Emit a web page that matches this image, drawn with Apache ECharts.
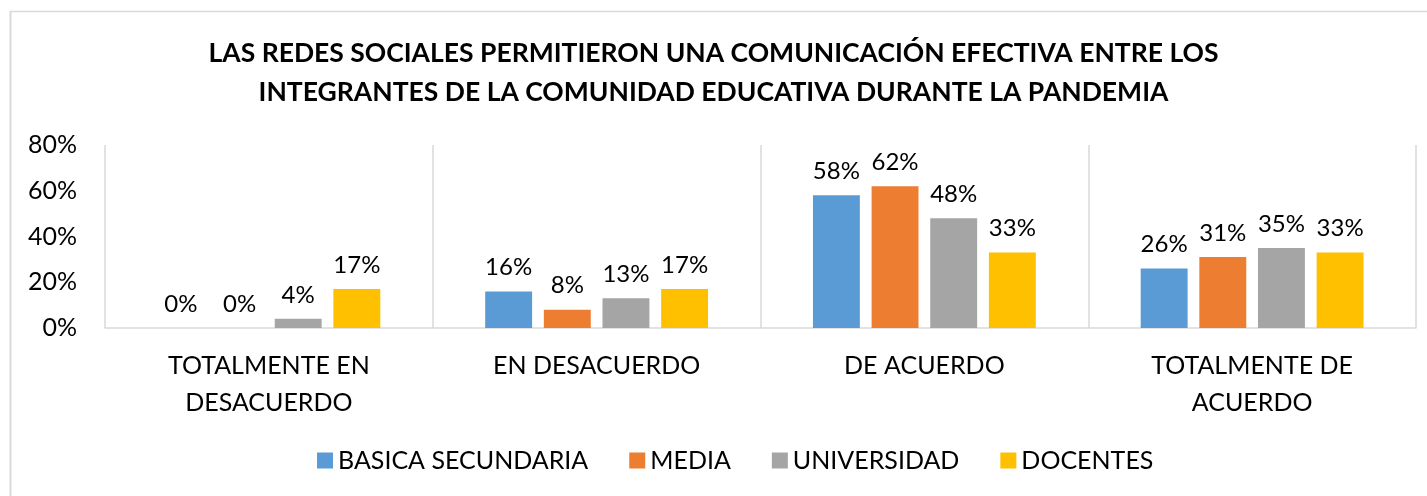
<!DOCTYPE html>
<html>
<head>
<meta charset="utf-8">
<script src="https://cdn.jsdelivr.net/npm/echarts@6/dist/echarts.min.js"></script>
<style>
  html, body { margin: 0; padding: 0; background: #fff; }
  #main { width: 1427px; height: 496px; }
</style>
</head>
<body>
<div id="main"></div>
<script>
// datos
var categorias = ['TOTALMENTE EN\nDESACUERDO', 'EN DESACUERDO', 'DE ACUERDO', 'TOTALMENTE DE\nACUERDO'];
var basica = [0, 0.16, 0.58, 0.26];
var media = [0, 0.08, 0.62, 0.31];
var universidad = [0.04, 0.13, 0.48, 0.35];
var docentes = [0.17, 0.17, 0.33, 0.33];
var nombres = ['BASICA SECUNDARIA', 'MEDIA', 'UNIVERSIDAD', 'DOCENTES'];
var colores = ['#5b9bd5', '#ed7d31', '#a5a5a5', '#ffc000'];

var fuente = 'Lato';

function pct(v) {
  return Math.round(v * 100) + '%';
}

function serie(nombre, datos, color) {
  return {
    name: nombre,
    type: 'bar',
    data: datos,
    barGap: '25%',
    barCategoryGap: '32%',
    itemStyle: { color: color },
    label: {
      show: true,
      position: 'top',
      distance: 12,
      color: '#000',
      fontFamily: fuente,
      fontSize: 24,
      formatter: function (p) { return pct(p.value); }
    }
  };
}

var chart = echarts.init(document.getElementById('main'));
chart.setOption({
  backgroundColor: '#fff',
  animation: false,
  title: {
    text: 'LAS REDES SOCIALES PERMITIERON UNA COMUNICACIÓN EFECTIVA ENTRE LOS\nINTEGRANTES DE LA COMUNIDAD EDUCATIVA DURANTE LA PANDEMIA',
    left: 'center',
    top: 29,
    textStyle: {
      fontFamily: fuente,
      fontWeight: 'bold',
      fontSize: 26.5,
      lineHeight: 39,
      color: '#000'
    }
  },
  legend: {
    data: nombres,
    bottom: 18,
    left: 312,
    itemWidth: 16,
    itemHeight: 16,
    itemGap: 41,
    icon: 'rect',
    textStyle: { fontFamily: fuente, fontSize: 25, color: '#000' }
  },
  grid: {
    left: 105,
    right: 11,
    top: 145,
    bottom: 168
  },
  xAxis: {
    type: 'category',
    data: categorias,
    axisLine: { lineStyle: { color: '#d9d9d9', width: 1.5 } },
    axisTick: { show: false },
    splitLine: { show: true, lineStyle: { color: '#d9d9d9', width: 1.5 } },
    axisLabel: {
      fontFamily: fuente,
      fontSize: 25,
      color: '#000',
      lineHeight: 37,
      margin: 19
    }
  },
  yAxis: {
    type: 'value',
    min: 0,
    max: 0.8,
    interval: 0.2,
    axisLine: { show: false },
    axisTick: { show: false },
    splitLine: { show: false },
    axisLabel: {
      fontFamily: fuente,
      fontSize: 25,
      color: '#000',
      margin: 28,
      formatter: function (v) { return pct(v); }
    }
  },
  graphic: [
    { type: 'line', shape: { x1: 10.5, y1: 11, x2: 10.5, y2: 496 }, style: { stroke: '#d9d9d9', lineWidth: 2 } },
    { type: 'line', shape: { x1: 10, y1: 11.5, x2: 1427, y2: 11.5 }, style: { stroke: '#d9d9d9', lineWidth: 1.5 } }
  ],
  series: [
    serie(nombres[0], basica, colores[0]),
    serie(nombres[1], media, colores[1]),
    serie(nombres[2], universidad, colores[2]),
    serie(nombres[3], docentes, colores[3])
  ]
});
</script>
</body>
</html>
